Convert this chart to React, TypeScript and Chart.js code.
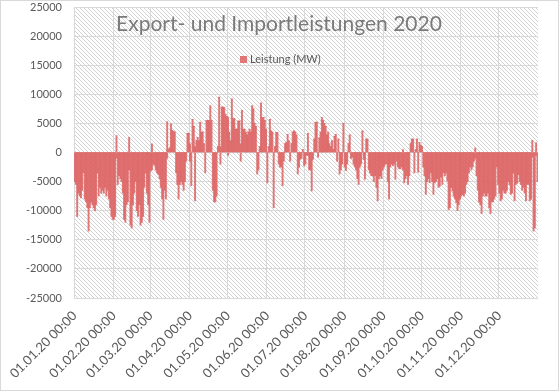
import React, { useEffect, useRef } from 'react';
import { Chart, registerables } from 'chart.js';

Chart.register(...registerables);

const chartTitle = 'Export- und Importleistungen 2020';
const seriesName = 'Leistung (MW)';
const monthDays = [31, 29, 31, 30, 31, 30, 31, 31, 30, 31, 30, 31];
const monthTickLabels = [
  '01.01.20 00:00', '01.02.20 00:00', '01.03.20 00:00', '01.04.20 00:00',
  '01.05.20 00:00', '01.06.20 00:00', '01.07.20 00:00', '01.08.20 00:00',
  '01.09.20 00:00', '01.10.20 00:00', '01.11.20 00:00', '01.12.20 00:00',
];
const yTicks = [-25000, -20000, -15000, -10000, -5000, 0, 5000, 10000, 15000, 20000, 25000];

// daily peak export (positive, MW)
const exportPeak = [
  0, 0, 0, 0, 0, 0, 0, 0, 0, 0, 0, 0, 0, 0, 0, 0, 0, 0, 0, 0,
  0, 0, 0, 0, 0, 0, 0, 0, 0, 0, 0, 0, 0, 2900, 0, 0, 0, 0, 0, 0,
  0, 0, 0, 2600, 0, 0, 0, 0, 0, 0, 0, 0, 0, 0, 0, 0, 0, 0, 0, 0,
  0, 1500, 0, 0, 0, 0, 0, 0, 0, 0, 0, 0, 0, 5300, 500, 800, 4900, 3800, 3600, 3500,
  0, 0, 0, 0, 0, 0, 0, 0, 0, 3300, 3300, 1500, 0, 5700, 4500, 1000, 2000, 2600, 2000, 5200,
  3500, 3500, 1500, 0, 5500, 5500, 5500, 8000, 5500, 0, 0, 0, 0, 1000, 9500, 1000, 7800, 7800, 7700, 6500,
  6200, 6000, 3500, 2000, 9200, 5800, 5800, 4000, 4000, 5400, 5400, 1500, 7200, 4000, 4000, 3500, 3000, 3500, 4000, 3500,
  8000, 7500, 5000, 4500, 0, 0, 1000, 8500, 6000, 6000, 5500, 4000, 0, 1000, 5700, 3700, 3500, 0, 1000, 3400,
  3400, 0, 0, 0, 0, 0, 1500, 1700, 3100, 2000, 0, 1500, 3500, 3700, 3500, 3000, 0, 0, 0, 0,
  500, 0, 0, 0, 3300, 0, 0, 0, 0, 2300, 5200, 5200, 0, 2500, 3500, 6000, 5500, 5000, 4500, 3000,
  3500, 1500, 1000, 2000, 500, 2800, 3100, 0, 2300, 0, 0, 0, 5000, 0, 0, 0, 1500, 3000, 0, 0,
  0, 0, 0, 0, 0, 0, 0, 3700, 0, 0, 2300, 2300, 0, 0, 0, 0, 0, 0, 0, 0,
  0, 0, 0, 0, 0, 0, 0, 0, 0, 0, 0, 0, 0, 0, 0, 0, 0, 0, 0, 500,
  0, 0, 0, 0, 0, 1500, 2300, 2300, 0, 500, 2300, 0, 1700, 1200, 1000, 0, 0, 0, 0, 0,
  0, 0, 0, 0, 0, 0, 0, 0, 0, 0, 0, 0, 0, 0, 0, 0, 0, 0, 0, 0,
  0, 0, 0, 0, 0, 0, 0, 0, 0, 0, 0, 0, 0, 0, 0, 0, 800, 0, 0, 0,
  0, 0, 0, 0, 0, 0, 0, 0, 0, 0, 0, 0, 0, 0, 0, 0, 0, 0, 0, 0,
  0, 0, 0, 0, 0, 0, 0, 0, 0, 0, 0, 0, 0, 0, 0, 0, 0, 0, 0, 0,
  0, 2100, 0, 0, 1700, 0,
];

// daily peak import (negative, MW)
const importPeak = [
  -5000, -5500, -11000, -7000, -7500, -7800, -6500, -3500, -8000, -8500, -9500, -13500, -9500, -8500, -9000, -9500, -10000, -9000, -3500, -7500,
  -6000, -7000, -6500, -7000, -6000, -7500, -6500, -8000, -9500, -11000, -11500, -11500, -11000, -1000, -5500, -4000, -4500, -5000, -7000, -11500,
  -12000, -9000, -8500, -3000, -12500, -13000, -9000, -7000, -5000, -10000, -11000, -9000, -12500, -12000, -11000, -6000, -3500, -7000, -9000, -12000,
  -3200, -3000, -2000, -2200, -3000, -3500, -3800, -4500, -6000, -8000, -11500, -6500, -8000, -1000, 0, 0, 0, 0, 0, 0,
  -3500, -5500, -8000, -5500, -5000, -5500, -6500, -5000, -1500, 0, 0, -1500, -5700, 0, 0, -8300, 0, 0, 0, 0,
  0, 0, 0, -3500, 0, 0, 0, 0, 0, -6500, -8500, -8500, -7500, 0, 0, -2000, 0, 0, 0, 0,
  0, -500, 0, 0, 0, 0, 0, 0, 0, 0, 0, -1500, 0, 0, 0, 0, 0, 0, 0, 0,
  0, 0, 0, 0, -3700, -3000, 0, 0, 0, 0, 0, 0, -5200, 0, 0, 0, 0, -9500, 0, 0,
  0, -2000, -2500, -2500, -5700, -1500, 0, 0, 0, 0, -1500, 0, 0, 0, 0, 0, -3700, -2500, -1200, -1000,
  0, -2300, -2000, -500, -500, -3000, -3000, -6600, -1200, 0, 0, 0, -800, 0, 0, 0, 0, 0, 0, 0,
  0, 0, 0, 0, 0, 0, 0, -1500, 0, -3700, -3000, -2000, 0, -2500, -3100, -2000, 0, 0, -1000, -800,
  -2000, -2500, -3000, -4500, -5500, -2500, -2000, 0, -1200, -4600, 0, 0, -3000, -3500, -4000, -4000, -5000, -4000, -6000, -8300,
  -4500, -4000, -4500, -3000, -2500, -2000, -2000, -5000, -8000, -2500, -2000, -2300, -2000, -4600, -1500, -2500, -2800, -2800, -2500, -3000,
  -5200, -4500, -4000, -5500, -4000, 0, 0, 0, -3500, 0, 0, -3400, 0, 0, 0, -2500, -4000, -7200, -5000, -4500,
  -5200, -3500, -5000, -7200, -5200, -5000, -4500, -6000, -5800, -4200, -5500, -3500, -4000, -3500, -4900, -9800, -9500, -6000, -6600, -7500,
  -8000, -8600, -10000, -9000, -8000, -7500, -7200, -7500, -7000, -5500, -5000, -3500, -2500, -3000, -2500, -1500, -1000, -4000, -6500, -8500,
  -9000, -10500, -7500, -7000, -7500, -7500, -7000, -9500, -10500, -8500, -8500, -8000, -7500, -2500, -5500, -7000, -8300, -8000, -6500, -7000,
  -7000, -6500, -5000, -5500, -7200, -7000, -3500, -8300, -5500, -5300, -3800, -5000, -5500, -6500, -6000, -7000, -8300, -5500, -5500, -8300,
  -8000, -800, -13500, -13000, -500, -5000,
];

const pad2 = (n: number) => (n < 10 ? '0' + n : String(n));
const dayLabels: string[] = [];
const monthStartIndex: Record<number, number> = {};
monthDays.forEach((len, m) => {
  monthStartIndex[dayLabels.length] = m;
  for (let d = 1; d <= len; d++) dayLabels.push(`${pad2(d)}.${pad2(m + 1)}.20 00:00`);
});

const barColor = 'rgba(221, 98, 98, 0.86)';
const gridColor = '#d9d9d9';
const textColor = '#595959';
const FONT = 'Lato, "Open Sans", sans-serif';

const decorPlugin = {
  id: 'decor',
  beforeDraw(chart: any) {
    const { ctx, chartArea } = chart;
    const { left, top, right, bottom } = chartArea;
    ctx.save();
    ctx.fillStyle = '#ffffff';
    ctx.fillRect(0, 0, chart.width, chart.height);
    const tile = document.createElement('canvas');
    tile.width = 4;
    tile.height = 4;
    const tc = tile.getContext('2d')!;
    tc.fillStyle = '#ffffff';
    tc.fillRect(0, 0, 4, 4);
    tc.fillStyle = '#d2d2d2';
    for (let i = 0; i < 4; i++) tc.fillRect(i, i, 1, 1);
    const pattern = ctx.createPattern(tile, 'repeat');
    if (pattern) {
      ctx.fillStyle = pattern;
      ctx.fillRect(left, top, right - left, bottom - top);
    }
    ctx.restore();
  },
  afterDraw(chart: any) {
    const { ctx } = chart;
    ctx.save();
    ctx.fillStyle = '#7a7a7a';
    ctx.font = `21px ${FONT}`;
    ctx.textAlign = 'center';
    ctx.textBaseline = 'alphabetic';
    ctx.fillText(chartTitle, 279, 31);
    ctx.fillStyle = barColor;
    ctx.fillRect(240, 56, 7, 7);
    ctx.fillStyle = textColor;
    ctx.font = `11px ${FONT}`;
    ctx.textAlign = 'left';
    ctx.fillText(seriesName, 250, 63);
    ctx.strokeStyle = '#d9d9d9';
    ctx.lineWidth = 1;
    ctx.strokeRect(0.5, 0.5, chart.width - 1, chart.height - 1);
    ctx.restore();
  },
};

export default function App() {
  const ref = useRef<HTMLCanvasElement | null>(null);
  useEffect(() => {
    if (!ref.current) return;
    const chart = new Chart(ref.current, {
      type: 'bar',
      data: {
        labels: dayLabels,
        datasets: [
          {
            label: seriesName,
            data: exportPeak,
            backgroundColor: barColor,
            borderWidth: 0,
            barPercentage: 1,
            categoryPercentage: 1,
          },
          {
            label: seriesName + ' import',
            data: importPeak,
            backgroundColor: barColor,
            borderWidth: 0,
            barPercentage: 1,
            categoryPercentage: 1,
          },
        ],
      },
      options: {
        responsive: false,
        animation: false,
        events: [],
        layout: { padding: { left: 0, right: 21, top: 0, bottom: 0 } },
        plugins: {
          legend: { display: false },
          title: { display: false },
          tooltip: { enabled: false },
        },
        scales: {
          x: {
            stacked: true,
            border: { display: false },
            grid: {
              offset: true,
              drawTicks: false,
              lineWidth: 1,
              color: (c: any) =>
                c && typeof c.index === 'number' && monthStartIndex[c.index] !== undefined && c.type === 'tick'
                  ? gridColor
                  : 'rgba(0,0,0,0)',
            },
            ticks: {
              autoSkip: false,
              maxRotation: 45,
              minRotation: 45,
              padding: 10,
              color: textColor,
              font: { family: FONT, size: 13 },
              callback: (_v: any, i: number) =>
                monthStartIndex[i] !== undefined ? monthTickLabels[monthStartIndex[i]] : '',
            },
            afterFit: (s: any) => {
              s.height = 93;
            },
          },
          y: {
            stacked: true,
            min: yTicks[0],
            max: yTicks[yTicks.length - 1],
            border: { display: false },
            grid: { color: gridColor, drawTicks: false, lineWidth: 1 },
            afterBuildTicks: (s: any) => {
              s.ticks = yTicks.map((v) => ({ value: v }));
            },
            ticks: {
              padding: 12,
              color: textColor,
              font: { family: FONT, size: 11 },
              callback: (v: any) => String(v),
            },
            afterFit: (s: any) => {
              s.width = 74;
              s.paddingTop = 7;
              s.paddingBottom = 0;
            },
          },
        },
      },
      plugins: [decorPlugin],
    });
    return () => chart.destroy();
  }, []);
  return (
    <div style={{ position: 'fixed', left: 0, top: 0, width: 559, height: 391, background: '#fff' }}>
      <canvas ref={ref} width={559} height={391} style={{ display: 'block', width: 559, height: 391 }} />
    </div>
  );
}
